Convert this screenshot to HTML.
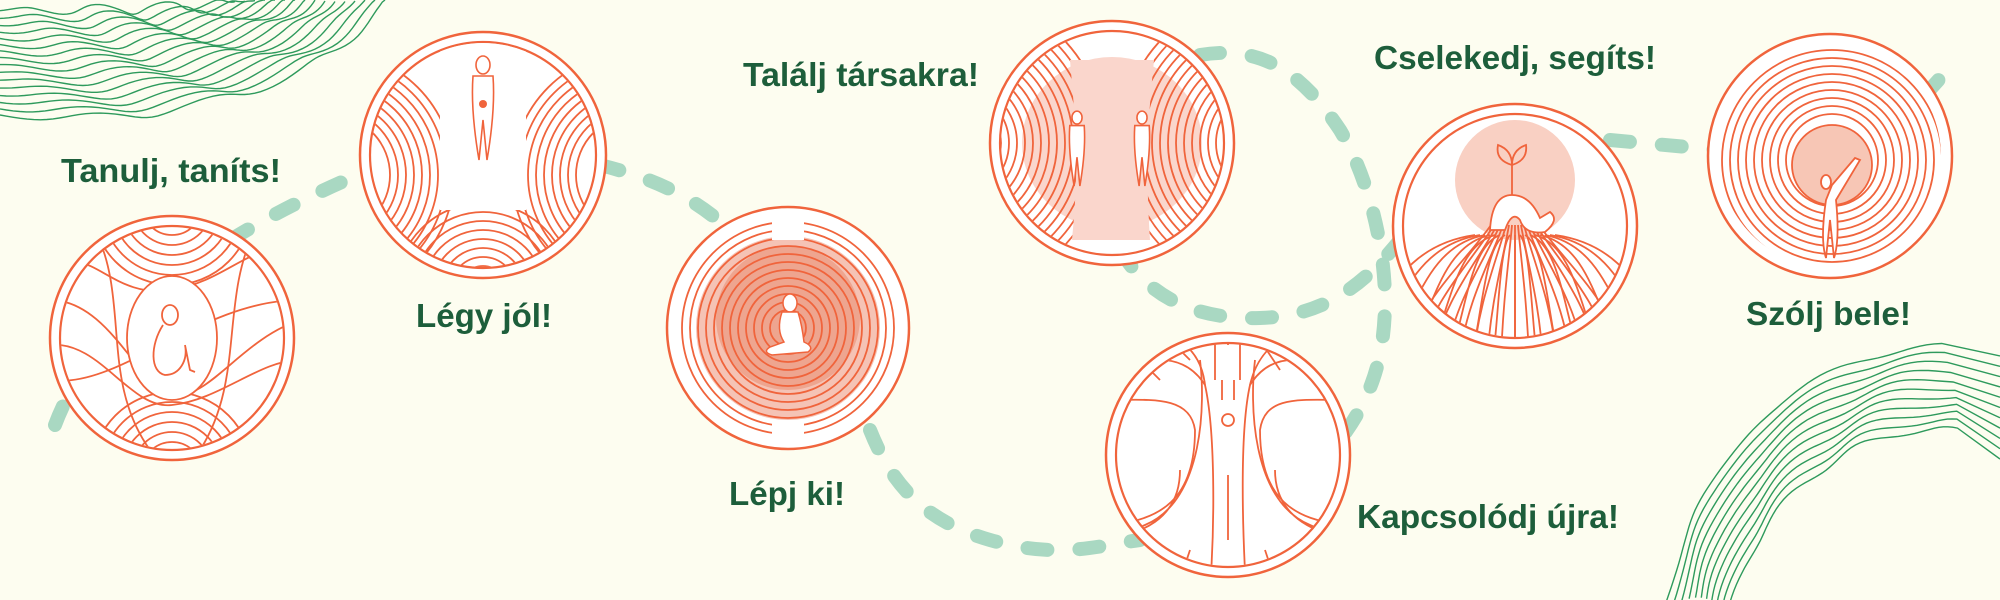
<!DOCTYPE html>
<html><head><meta charset="utf-8">
<style>
html,body{margin:0;padding:0;background:#fdfdf0;}
svg{display:block;}
text{font-family:"Liberation Sans",sans-serif;font-weight:bold;fill:#1d5e3b;font-size:33px;}
</style></head>
<body>
<svg id="s" width="2000" height="600" viewBox="0 0 2000 600" xmlns="http://www.w3.org/2000/svg">
<rect width="2000" height="600" fill="#fdfdf0"/>
<g id="contours" fill="none" stroke="#2e9a5c" stroke-width="1.4"></g>
<g fill="none" stroke="#a9d8c2" stroke-width="14" stroke-linecap="round" stroke-dasharray="20 32">
<path d="M55 425 C90 330 200 240 370 170"/>
<path d="M600 165 C660 180 700 200 740 240"/>
<path d="M870 430 C890 480 920 520 990 540 S1100 545 1140 540"/>
<path d="M1120 250 C1150 300 1200 320 1260 318 S1360 290 1400 240"/>
<path d="M1200 55 C1260 45 1300 70 1340 130 C1370 180 1385 250 1385 300 C1385 360 1370 400 1340 440"/>
<path d="M1610 140 L1720 150"/>
<path d="M1925 95 L1952 65"/>
</g>
<g id="circles"></g>
<text x="61" y="182" textLength="220" lengthAdjust="spacingAndGlyphs">Tanulj, taníts!</text>
<text x="416" y="327" textLength="136" lengthAdjust="spacingAndGlyphs">Légy jól!</text>
<text x="743" y="86" textLength="236" lengthAdjust="spacingAndGlyphs">Találj társakra!</text>
<text x="729" y="505" textLength="116" lengthAdjust="spacingAndGlyphs">Lépj ki!</text>
<text x="1374" y="69" textLength="282" lengthAdjust="spacingAndGlyphs">Cselekedj, segíts!</text>
<text x="1746" y="325" textLength="165" lengthAdjust="spacingAndGlyphs">Szólj bele!</text>
<text x="1357" y="528" textLength="262" lengthAdjust="spacingAndGlyphs">Kapcsolódj újra!</text>
</svg>
<script>
(function(){
var NS="http://www.w3.org/2000/svg";
function el(p,tag,a){var e=document.createElementNS(NS,tag);for(var k in a)e.setAttribute(k,a[k]);p.appendChild(e);return e;}
var O="#f0643c";
var cg=document.getElementById("contours");
function bez(p0,p1,p2,p3,u){var v=1-u;return [v*v*v*p0[0]+3*v*v*u*p1[0]+3*v*u*u*p2[0]+u*u*u*p3[0],v*v*v*p0[1]+3*v*v*u*p1[1]+3*v*u*u*p2[1]+u*u*u*p3[1]];}
// top-left contours
for(var i=0;i<16;i++){
  var f=i/15;
  var y0=115-f*105, xe=385-f*150, d="";
  var p0=[0,y0],p1=[xe*0.4,y0*1.12],p2=[xe*0.85,y0*0.8],p3=[xe,0];
  for(var t=0;t<=70;t++){
    var u=t/70,q=bez(p0,p1,p2,p3,u);
    var n=Math.sin(u*Math.PI);
    q[0]+=3*n*Math.sin(u*30+i*0.5);
    q[1]+=4*Math.sin(u*24+i*0.6)*(0.4+n);
    d+=(t?"L":"M")+q[0].toFixed(1)+" "+Math.max(0,q[1]).toFixed(1);
  }
  el(cg,"path",{d:d});
}
// bottom-right arch contours
for(var i=0;i<11;i++){
  var f=i/10;
  var p0=[1666+67*f,600],p1=[1700+60*f,450+50*f],p2=[1800+50*f,350+70*f],p3=[1944+16*f,346+84*f];
  var d="";
  for(var t=0;t<=60;t++){
    var u=t/60,q=bez(p0,p1,p2,p3,u);
    q[0]+=3*Math.sin(u*18+i*0.5);q[1]+=2.5*Math.cos(u*22+i*0.7);
    d+=(t?"L":"M")+q[0].toFixed(1)+" "+q[1].toFixed(1);
  }
  d+="L"+(2000)+" "+(356+103*f).toFixed(1);
  el(cg,"path",{d:d});
}
var cs=document.getElementById("circles");
var defs=el(cs,"defs",{});
var cid=0;
function base(cx,cy,r,dbl){
  var g=el(cs,"g",{});
  el(g,"circle",{cx:cx,cy:cy,r:r,fill:"#fff",stroke:O,"stroke-width":2.5});
  if(dbl!==false) el(g,"circle",{cx:cx,cy:cy,r:r-10,fill:"none",stroke:O,"stroke-width":2.2});
  cid++;
  var cp=el(defs,"clipPath",{id:"c"+cid});
  el(cp,"circle",{cx:cx,cy:cy,r:r-11});
  var inner=el(g,"g",{"clip-path":"url(#c"+cid+")",fill:"none",stroke:O,"stroke-width":1.8});
  return inner;
}
function arcs(g,cx,cy,r0,r1,step){for(var r=r0;r<=r1;r+=step)el(g,"circle",{cx:cx,cy:cy,r:r});}
function fig(g,x,y,s){
  var f=el(g,"g",{fill:"#fff",stroke:O,"stroke-width":1.6});
  el(f,"ellipse",{cx:x,cy:y-s*0.9,rx:s*0.14,ry:s*0.18});
  el(f,"path",{d:"M"+(x-s*0.2)+" "+(y-s*0.68)+" Q"+(x-s*0.25)+" "+(y)+" "+(x-s*0.08)+" "+(y+s)+" L"+(x)+" "+(y+s*0.2)+" L"+(x+s*0.08)+" "+(y+s)+" Q"+(x+s*0.25)+" "+y+" "+(x+s*0.2)+" "+(y-s*0.68)+" Z"});
}
// 1 Tanulj
var g=base(172,338,122);
arcs(g,172,205,20,80,10);arcs(g,172,472,20,80,10);
el(g,"path",{d:"M50 270 C90 240 110 300 172 290 C230 280 250 240 300 250"});
el(g,"path",{d:"M50 300 C110 300 140 390 172 395 C210 400 240 340 300 320"});
el(g,"path",{d:"M50 345 C100 340 130 410 172 405 C220 400 260 360 300 360"});
el(g,"path",{d:"M50 380 C120 390 200 300 300 300"});
el(g,"path",{d:"M95 230 C130 300 100 380 150 450"});
el(g,"path",{d:"M255 230 C220 300 245 380 200 450"});
el(g,"ellipse",{cx:172,cy:338,rx:45,ry:62,fill:"#fff"});
el(g,"ellipse",{cx:170,cy:315,rx:8,ry:10,fill:"#fff"});
el(g,"path",{d:"M163 325 C150 345 150 372 165 375 C180 375 188 360 185 345 L190 370 L195 372",fill:"#fff"});
// 2 Légy jól
g=base(483,155,123);
arcs(g,483,290,15,95,9);
arcs(g,330,175,60,130,8);arcs(g,636,175,60,130,8);
el(g,"rect",{x:440,y:40,width:86,height:170,fill:"#fff",stroke:"none"});
fig(g,483,110,50);
el(g,"circle",{cx:483,cy:104,r:4,fill:O,stroke:"none"});
// 3 Lépj ki
g=base(788,328,121,false);
el(g,"circle",{cx:788,cy:328,r:92,fill:"#f5c3b5",stroke:"none"});
el(g,"circle",{cx:788,cy:318,r:72,fill:"#eea58f",stroke:"none"});
arcs(g,788,328,18,121,8);
el(g,"rect",{x:772,y:200,width:32,height:40,fill:"#fff",stroke:"none"});
el(g,"rect",{x:772,y:420,width:32,height:40,fill:"#fff",stroke:"none"});
el(g,"ellipse",{cx:790,cy:303,rx:7,ry:9,fill:"#fff",stroke:O,"stroke-width":1.5});
el(g,"path",{d:"M782 312 Q776 330 784 342 L770 347 Q762 352 772 355 L808 352 Q815 347 804 342 Q802 325 798 312 Z",fill:"#fff","stroke-width":1.5});
// 4 Találj
g=base(1112,143,122);
el(g,"ellipse",{cx:1112,cy:143,rx:90,ry:86,fill:"#fad6cc",stroke:"none"});
arcs(g,955,143,30,150,8);arcs(g,1270,143,30,150,8);
el(g,"path",{d:"M1070 60 C1075 120 1080 160 1072 240 L1150 240 C1145 160 1148 120 1154 60 Z",fill:"#fad6cc",stroke:"none"});
fig(g,1077,150,36);fig(g,1142,150,36);
// 5 Cselekedj
g=base(1515,226,122);
el(g,"circle",{cx:1515,cy:180,r:60,fill:"#f9d0c3",stroke:"none"});
for(var k=-8;k<=8;k++){
  el(g,"path",{d:"M"+(1515+k*3)+" 225 C"+(1515+k*6)+" 260 "+(1515+k*12)+" 300 "+(1515+k*14)+" 360"});
  el(g,"path",{d:"M"+(1515+k*5)+" 235 C"+(1515+k*14)+" 245 "+(1515+k*16)+" 300 "+(1515+k*20)+" 340"});
}
el(g,"path",{d:"M1490 230 Q1492 195 1512 195 Q1530 195 1540 218 L1550 212 Q1560 220 1545 232 Q1525 235 1520 220 Q1512 210 1505 230 Z",fill:"#fff"});
el(g,"path",{d:"M1512 195 L1512 160 M1512 165 Q1495 160 1498 145 Q1512 150 1512 165 M1512 165 Q1528 160 1526 145 Q1512 150 1512 165"});
// 6 Tree
g=base(1228,455,122);
el(g,"path",{d:"M1210 590 C1215 520 1215 430 1205 385 C1180 345 1130 360 1110 380 M1246 590 C1242 520 1240 430 1250 385 C1275 345 1320 360 1350 380"});
el(g,"path",{d:"M1205 385 C1200 340 1160 320 1100 330 M1250 385 C1260 340 1300 320 1350 330 M1215 380 L1215 335 M1240 380 L1240 335"});
el(g,"path",{d:"M1200 360 C1205 400 1205 500 1145 525 C1120 535 1110 560 1110 560 M1180 470 C1180 520 1140 535 1100 540"});
el(g,"path",{d:"M1255 360 C1250 400 1250 500 1310 525 C1335 535 1345 560 1345 560 M1275 470 C1275 520 1320 535 1355 540"});
el(g,"path",{d:"M1110 400 C1150 400 1190 395 1195 430 C1195 500 1160 520 1110 525 M1345 400 C1300 400 1265 395 1260 430 C1260 500 1295 520 1345 525"});
var br=[[1130,350,1160,380],[1150,340,1140,370],[1170,340,1190,360],[1260,340,1280,370],[1290,345,1310,365],[1320,360,1330,385],[1150,540,1170,560],[1190,550,1180,580],[1265,550,1275,580],[1300,545,1290,570],[1328,535,1340,560],[1228,340,1228,345]];
br.forEach(function(b){el(g,"path",{d:"M"+b[0]+" "+b[1]+" L"+b[2]+" "+b[3]});});
el(g,"path",{d:"M1222 400 L1222 380 M1234 400 L1234 380"});
el(g,"circle",{cx:1228,cy:420,r:6,fill:"#fff"});
el(g,"path",{d:"M1228 475 L1228 540"});
// 7 Szólj bele
g=base(1830,156,122,false);
arcs(g,1832,160,46,122,8);
el(g,"circle",{cx:1832,cy:165,r:40,fill:"#f7c6b5"});
el(g,"path",{d:"M1826 200 Q1820 240 1826 258 L1830 220 L1834 258 Q1840 240 1836 200 L1860 160 L1855 158 L1832 185 Z",fill:"#fff"});
el(g,"ellipse",{cx:1826,cy:182,rx:5,ry:7,fill:"#fff"});
})();
</script>
</body></html>
